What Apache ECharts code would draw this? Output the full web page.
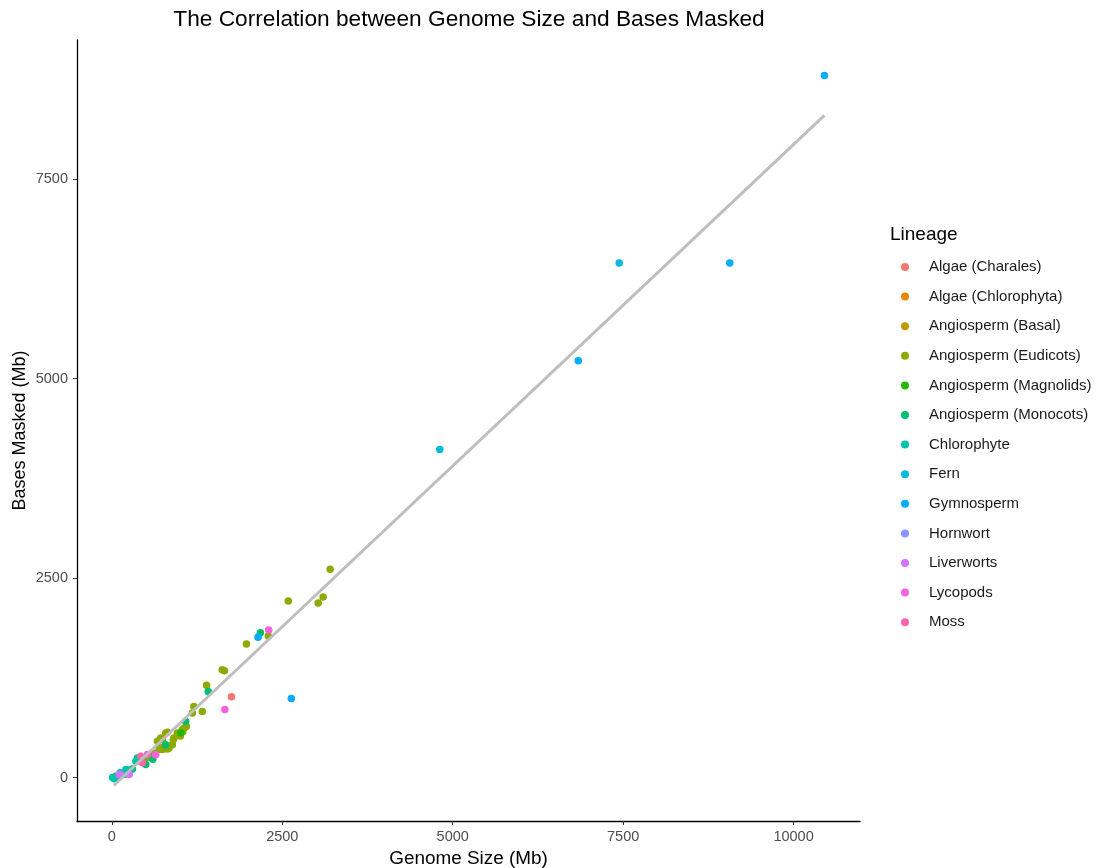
<!DOCTYPE html>
<html>
<head>
<meta charset="utf-8">
<script src="https://cdn.jsdelivr.net/npm/echarts@6/dist/echarts.min.js"></script>
<style>html,body{margin:0;padding:0;background:#fff;}#c{width:1096px;height:868px;}</style>
</head>
<body>
<div id="c"></div>
<script>
const lineages = ["Algae (Charales)","Algae (Chlorophyta)","Angiosperm (Basal)","Angiosperm (Eudicots)","Angiosperm (Magnolids)","Angiosperm (Monocots)","Chlorophyte","Fern","Gymnosperm","Hornwort","Liverworts","Lycopods","Moss"];
const colors = ["#F8766D","#E18A00","#BE9C00","#8CAB00","#24B700","#00BE70","#00C1AB","#00BBDA","#00ACFC","#8B93FF","#D575FE","#F962DD","#FF65AC"];
const xTicks = [0,2500,5000,7500,10000];
const yTicks = [0,2500,5000,7500];

const charales = [[1754,1012]];
const chlorophyta = [[60,20]];
const basal = [[700,380]];
const eudicots = [[3202,2612],[3099,2262],[3026,2187],[2588,2212],[2295,1775],[1974,1675],[1618,1350],[1652,1338],[1389,1158],[1203,891],[1326,829],[1180,808],[1092,641],[1033,600],[984,537],[960,558],[911,496],[789,558],[814,566],[716,496],[668,454],[741,475],[741,350],[838,371],[887,412],[814,358],[692,350],[570,266],[1040,575],[1005,520],[620,300],[520,250],[900,470],[1060,620]];
const magnolids = [[1010,560]];
const monocots = [[2178,1816],[1413,1079],[1082,704],[789,412],[497,162],[375,246],[302,108],[600,230],[430,200]];
const chlorophyte = [[10,0],[34,-16],[83,16],[180,37],[205,100],[278,100],[351,204],[120,60],[50,10]];
const fern = [[7442,6450],[4810,4112]];
const gymnosperm = [[10453,8800],[9064,6450],[6842,5225],[2632,991],[2144,1758]];
const hornwort = [[132,37]];
const liverworts = [[107,37],[253,37]];
const lycopods = [[2300,1850],[1657,854],[643,287],[521,290]];
const moss = [[448,184],[424,266]];
const fitLine = [[29,-100],[10453,8300]];

const groups = [charales,chlorophyta,basal,eudicots,magnolids,monocots,chlorophyte,fern,gymnosperm,hornwort,liverworts,lycopods,moss];

const font = "'Liberation Sans', Arial, sans-serif";
const series = groups.map((d,i)=>({
  name: lineages[i], type:'scatter', data:d, symbolSize:7.5,
  itemStyle:{color:colors[i], opacity:1}, z:2, animation:false
}));
series.push({
  name:'fit', type:'line', data:fitLine, showSymbol:false, symbol:'none',
  lineStyle:{color:'#BEBEBE', width:3}, z:3, animation:false, silent:true
});

const chart = echarts.init(document.getElementById('c'), null, {renderer:'canvas'});
chart.setOption({
  animation:false,
  backgroundColor:'#fff',
  title:[
    {text:'The Correlation between Genome Size and Bases Masked', left:464, top:3, textAlign:'center',
     textStyle:{fontFamily:font, fontSize:22.7, fontWeight:'normal', color:'#000'}},
    {text:'Lineage', left:885, top:220, textStyle:{fontFamily:font, fontSize:19, fontWeight:'normal', color:'#000'}}
  ],
  legend:{
    orient:'vertical', left:896, top:254, icon:'circle', itemWidth:38, itemHeight:8, itemGap:13.6,
    data:lineages,
    textStyle:{fontFamily:font, fontSize:15, color:'#1a1a1a', lineHeight:16}
  },
  grid:{left:77, right:236, top:40, bottom:47, containLabel:false, outerBoundsMode:'none'},
  xAxis:{
    type:'value', min:-512, max:10975,
    name:'Genome Size (Mb)', nameLocation:'middle', nameGap:26,
    nameTextStyle:{fontFamily:font, fontSize:18.9, color:'#000'},
    axisLine:{show:true, onZero:false, lineStyle:{color:'#000', width:1.3}},
    axisTick:{show:true, length:4, lineStyle:{color:'#333'}, customValues:xTicks},
    axisLabel:{fontFamily:font, fontSize:14.5, color:'#4d4d4d', margin:8, customValues:xTicks, formatter:v=>String(v)},
    splitLine:{show:false}
  },
  yAxis:{
    type:'value', min:-545, max:9245,
    name:'Bases Masked (Mb)', nameLocation:'middle', nameGap:48, nameMoveOverlap:false,
    nameTextStyle:{fontFamily:font, fontSize:18, color:'#000'},
    axisLine:{show:true, onZero:false, lineStyle:{color:'#000', width:1.3}},
    axisTick:{show:true, length:4, lineStyle:{color:'#333'}, customValues:yTicks},
    axisLabel:{fontFamily:font, fontSize:14.5, color:'#4d4d4d', margin:9, customValues:yTicks, formatter:v=>String(v)},
    splitLine:{show:false}
  },
  series:series
});
</script>
</body>
</html>
